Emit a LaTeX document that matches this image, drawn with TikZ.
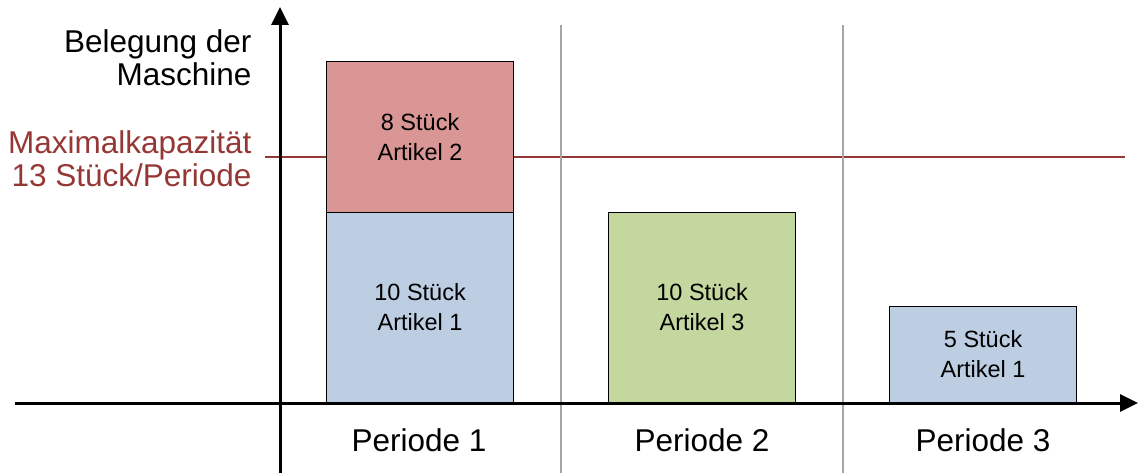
\documentclass[tikz,border=0pt]{standalone}
\usepackage{fontspec}
\setmainfont{Liberation Sans}
\usetikzlibrary{arrows.meta}
\definecolor{barred}{RGB}{217,150,148}
\definecolor{barblue}{RGB}{189,206,227}
\definecolor{bargreen}{RGB}{196,215,158}
\definecolor{caprd}{RGB}{149,55,53}
\definecolor{sepgray}{RGB}{166,166,166}
\tikzset{
  bar/.style={draw=black, line width=1.2pt, inner sep=0pt, anchor=south west, align=center, font=\fontsize{23.5}{30}\selectfont},
  axis/.style={line width=3pt, -{Triangle[length=18pt,width=17pt]}},
  sep/.style={draw=sepgray, line width=2.5pt},
  period/.style={font=\fontsize{31.5}{36}\selectfont},
  ylab/.style={align=right, anchor=east, font=\fontsize{31.5}{33}\selectfont}
}
\begin{document}
\begin{tikzpicture}[x=1pt,y=-1pt]
\useasboundingbox (0,0) rectangle (1138,473);
% bars
\node[bar, fill=barblue, minimum width=187pt, minimum height=190pt] (b1) at (326,403) {10 Stück\\Artikel 1};
\node[bar, fill=barred, minimum width=187pt, minimum height=151pt, anchor=south west] (b2) at (326,213) {8 Stück\\Artikel 2};
\node[bar, fill=bargreen, minimum width=187pt, minimum height=190pt] (b3) at (608,403) {10 Stück\\Artikel 3};
\node[bar, fill=barblue, minimum width=187pt, minimum height=96pt] (b4) at (889,403) {5 Stück\\Artikel 1};
% capacity line
\coordinate (c1) at (265,157); \coordinate (c2) at (1125,157);
\draw[caprd, line width=2.5pt] (c1) -- (b2.west |- c1);
\draw[caprd, line width=2.5pt] (b2.east |- c1) -- (c2);
% separators
\coordinate (s1t) at (561,25); \coordinate (s1b) at (561,473);
\coordinate (s2t) at (843,25); \coordinate (s2b) at (843,473);
\draw[sep] (s1t) -- (s1b);
\draw[sep] (s2t) -- (s2b);
% axes
\coordinate (yb) at (280,473); \coordinate (yt) at (280,7);
\coordinate (xl) at (15,403); \coordinate (xr) at (1138,403);
\draw[axis] (yb) -- (yt);
\draw[axis] (xl) -- (xr);
% labels
\node[ylab] (yl) at (255,58) {Belegung der\\Maschine};
\node[ylab, text=caprd] (cl) at (255,159) {Maximalkapazität\\13 Stück/Periode};
\node[period] (p1) at (419,440) {Periode 1};
\node[period] (p2) at (702,440) {Periode 2};
\node[period] (p3) at (983,440) {Periode 3};
\end{tikzpicture}
\end{document}
